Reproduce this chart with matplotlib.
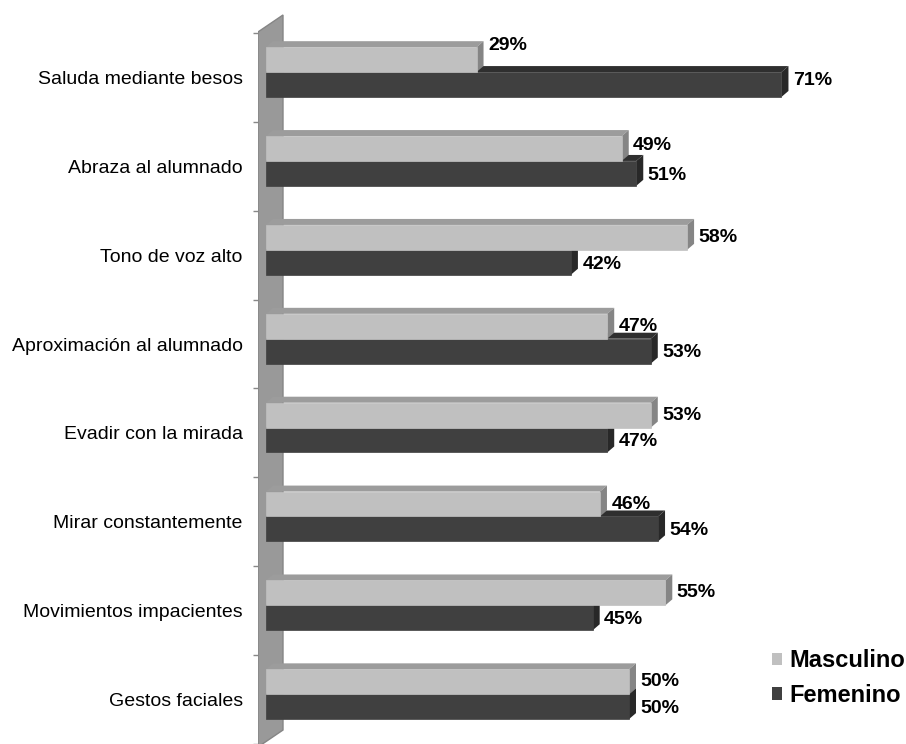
import matplotlib.pyplot as plt
from matplotlib.patches import Polygon, Patch
import numpy as np

plt.rcParams['font.family'] = ['Liberation Sans', 'DejaVu Sans']

# datos
categorias = ['Saluda mediante besos', 'Abraza al alumnado', 'Tono de voz alto',
              'Aproximación al alumnado', 'Evadir con la mirada',
              'Mirar constantemente', 'Movimientos impacientes', 'Gestos faciales']
masculino = [29, 49, 58, 47, 53, 46, 55, 50]
femenino = [71, 51, 42, 53, 47, 54, 45, 50]
series = ['Masculino', 'Femenino']

# colores (frente, arriba, lado)
col_mas = ('#c0c0c0', '#9c9c9c', '#858585')
col_fem = ('#404040', '#2f2f2f', '#282828')

W, H = 906, 744
k = 7.26            # px por %
x0_px = 266         # px del 0 %
c0_px = 77.5        # centro de la primera categoria
paso = 89.0         # px por categoria

fig = plt.figure(figsize=(W / 100, H / 100), dpi=100)
ax_left = 258
ax = fig.add_axes([ax_left / W, 0, 1 - ax_left / W, 1])
ax.set_xlim(-(x0_px - ax_left) / k, (W - x0_px) / k)
ax.set_ylim((H - c0_px) / paso, -c0_px / paso)

dx = 7 / k          # profundidad 3D en %
dy = -6 / paso      # profundidad 3D en categorias
alto = 0.28

y = np.arange(len(categorias))

# pared lateral
pared = Polygon([(-(x0_px - 258) / k, (32 - c0_px) / paso),
                 ((283 - x0_px) / k, (15 - c0_px) / paso),
                 ((283 - x0_px) / k, (731 - c0_px) / paso),
                 (-(x0_px - 258) / k, (748 - c0_px) / paso)],
                closed=True, facecolor='#999999', edgecolor='#858585', lw=1, zorder=1)
ax.add_patch(pared)


def barras(vals, yc, cols, z):
    for v, c in zip(vals, yc):
        top = c - alto / 2
        bot = c + alto / 2
        arriba = Polygon([(0, top), (v, top), (v + dx, top + dy), (dx, top + dy)],
                         closed=True, facecolor=cols[1], edgecolor='none', zorder=z)
        lado = Polygon([(v, top), (v, bot), (v + dx, bot + dy), (v + dx, top + dy)],
                       closed=True, facecolor=cols[2], edgecolor='none', zorder=z)
        ax.add_patch(arriba)
        ax.add_patch(lado)
    ax.barh(yc, vals, height=alto, left=0, color=cols[0], edgecolor=cols[0],
            lw=0.5, zorder=z + 0.5)


y_mas = y - 0.20
y_fem = y + 0.08
barras(femenino, y_fem, col_fem, 2)
barras(masculino, y_mas, col_mas, 4)

# etiquetas de valores
ajuste_mas = [-0.16, -0.03, 0, 0, 0, 0, 0, 0]
ajuste_fem = [-0.06, 0, 0, 0, 0, 0, 0, 0]
for i in range(len(categorias)):
    ax.text(masculino[i] + dx + 0.6, y_mas[i] + ajuste_mas[i], f'{masculino[i]}%',
            ha='left', va='center', fontsize=14, fontweight='bold', color='black', zorder=10)
    ax.text(femenino[i] + dx + 0.6, y_fem[i] + 0.02 + ajuste_fem[i], f'{femenino[i]}%',
            ha='left', va='center', fontsize=14, fontweight='bold', color='black', zorder=10)

# ejes
for s in ax.spines.values():
    s.set_visible(False)
ax.set_xticks([])
ax.set_yticks(y)
ax.set_yticklabels(categorias, fontsize=14)
ax.tick_params(axis='y', which='major', length=0, pad=11)
ax.set_yticks(np.arange(len(categorias) + 1) - 0.5, minor=True)
ax.tick_params(axis='y', which='minor', length=3.6, width=1, color='#888888', direction='out')

# leyenda
handles = [Patch(facecolor=col_mas[0], edgecolor='none'),
           Patch(facecolor=col_fem[0], edgecolor='none')]
fig.legend(handles, series, loc='center left', bbox_to_anchor=(772 / W, 1 - 678 / H),
           frameon=False, prop={'size': 17, 'weight': 'bold'},
           handlelength=0.42, handleheight=0.42, handletextpad=0.3,
           labelspacing=0.5, borderpad=0, borderaxespad=0)

fig.savefig('out.png', dpi=100)
